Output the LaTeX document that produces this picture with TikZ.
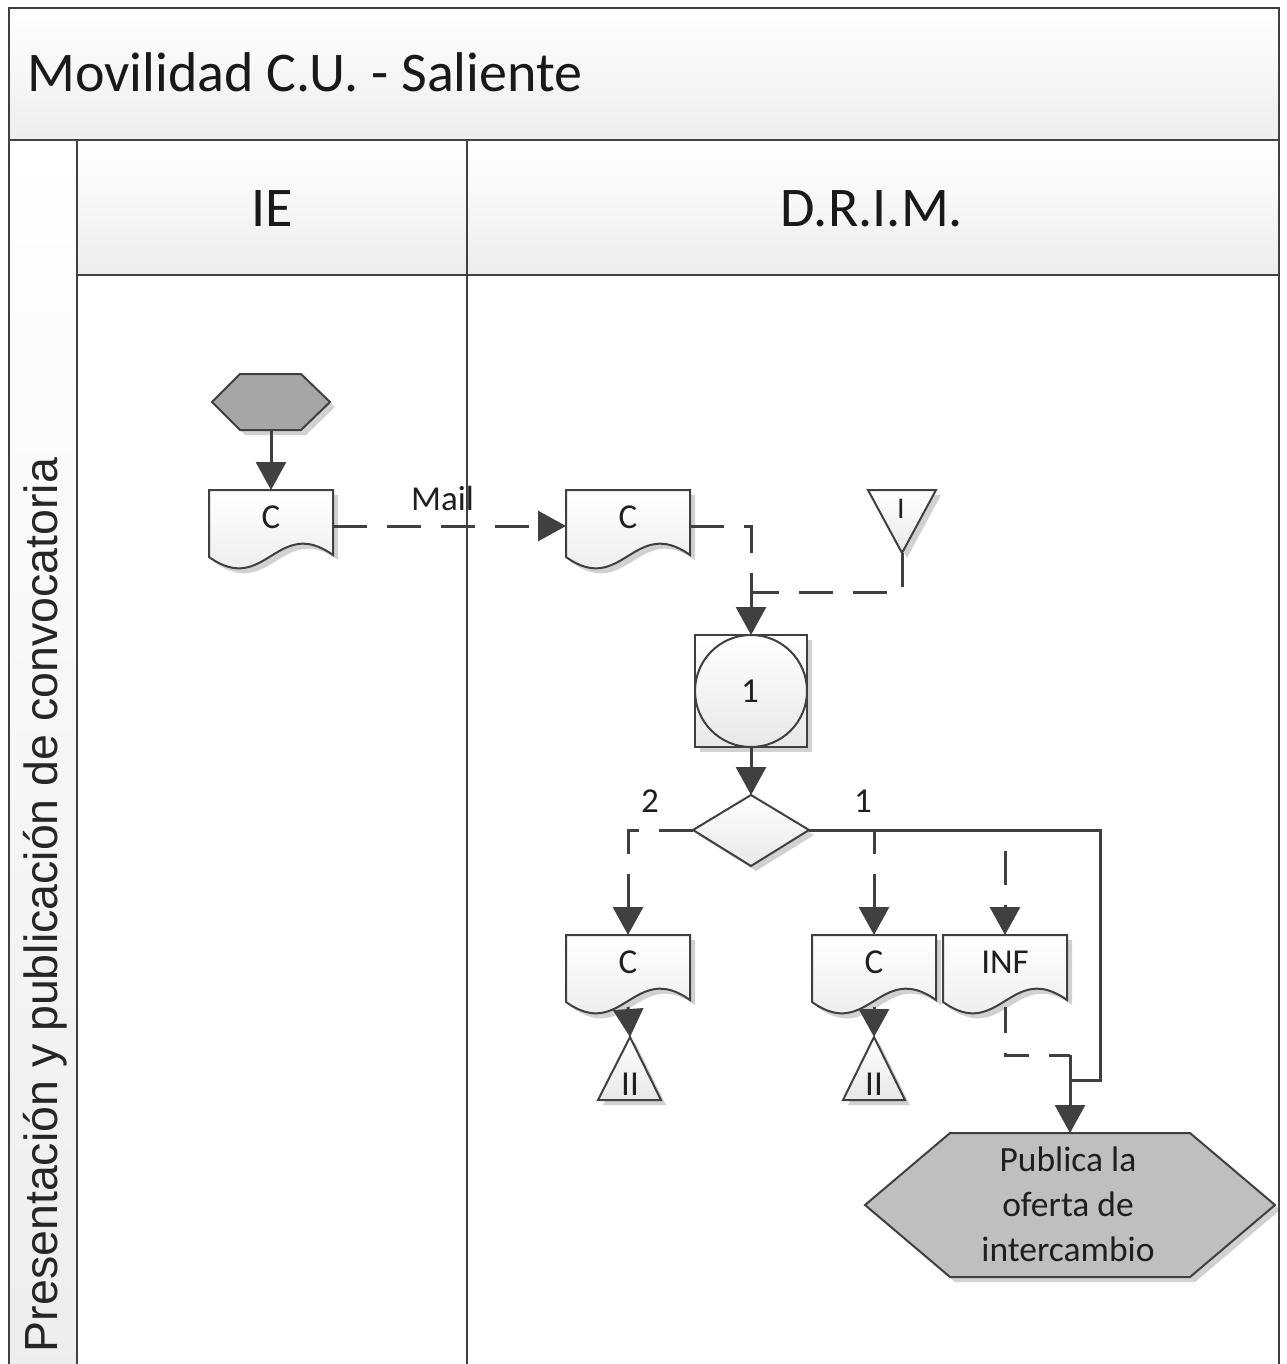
\documentclass[tikz,border=0pt]{standalone}
\usepackage{fontspec}
\setmainfont{Carlito}
\newfontfamily\arialf{Liberation Sans}
\usetikzlibrary{arrows.meta,shapes.geometric,shadows}
\definecolor{lc}{HTML}{404040}
\definecolor{hexa}{HTML}{A6A6A6}
\definecolor{hexb}{HTML}{BFBFBF}
\tikzset{
  frame/.style={draw=lc, line width=2.6pt},
  hdr/.style={frame, top color=white, bottom color=black!7},
  shp/.style={draw=lc, line width=2pt, top color=white, bottom color=black!9,
     drop shadow={shadow xshift=5pt, shadow yshift=-5pt, opacity=0.18, fill=black}},
  gshp/.style={draw=lc, line width=2pt, fill=#1,
     drop shadow={shadow xshift=5pt, shadow yshift=-5pt, opacity=0.18, fill=black}},
  nm/.style={inner sep=0pt, outer sep=0pt, draw=none, rectangle},
  conn/.style={draw=lc, line width=3pt, -{Triangle[width=30pt,length=28pt]}},
  dconn/.style={conn, dash pattern=on 34pt off 20pt},
  plain/.style={draw=lc, line width=3pt},
  lbl/.style={font=\fontsize{35}{44}\selectfont, text=black!88, inner sep=0pt},
  big/.style={font=\fontsize{56}{66}\selectfont, text=black!90, inner sep=0pt},
}
\newcommand\docnode[4]{%
  \path[shp] (#2-62,#3) -- (#2+62,#3) -- (#2+62,#3+65)
     .. controls (#2+6,#3+25) and (#2-6,#3+107) .. (#2-62,#3+67) -- cycle;
  \node[nm, minimum width=124pt, minimum height=72pt] (#1) at (#2,#3+36) {};
  \node[lbl, anchor=base] at (#2,#3+38) {#4};
}
\begin{document}
\begin{tikzpicture}[x=1pt,y=-1pt]
\useasboundingbox (0,0) rectangle (1286,1364);
\clip (0,0) rectangle (1286,1364);
% frame
\path[hdr] (9,8) rectangle (1279,140);
\path[hdr] (9,140) rectangle (77,1380);
\path[hdr] (77,140) rectangle (467,275);
\path[hdr] (467,140) rectangle (1279,275);
\draw[frame] (467,275) -- (467,1380);
\draw[frame] (1279,275) -- (1279,1380);
\node[big, anchor=base west] (title) at (27,92) {Movilidad C.U. - Saliente};
\node[big, anchor=base] (ie) at (272,227) {IE};
\node[big, anchor=base] (drim) at (872,227) {D.R.I.M.};
\node[font=\arialf\fontsize{46.5}{52}\selectfont, text=black!85, inner sep=0pt, rotate=90, anchor=base] (phase) at (57,905) {Presentación y publicación de convocatoria};
% start hexagon
\path[gshp=hexa] (212,402) -- (240,374) -- (301,374) -- (330,402) -- (301,430) -- (240,430) -- cycle;
\node[nm, minimum width=118pt, minimum height=56pt] (start) at (271,402) {};
% documents
\docnode{c1}{271}{490}{C}
\docnode{c2}{628}{490}{C}
\docnode{c3}{628}{935}{C}
\docnode{c4}{874}{935}{C}
\docnode{inf}{1005}{935}{INF}
% triangle I
\path[shp] (868,490) -- (936,490) -- (902,553) -- cycle;
\node[nm, minimum width=68pt, minimum height=63pt] (tri1) at (902,521.5) {};
\node[lbl, anchor=base, font=\fontsize{30}{36}\selectfont] at (901,518) {I};
% box with circle
\path[shp] (695,635) rectangle (807,747);
\draw[draw=lc, line width=2pt, top color=white, bottom color=black!9] (751,691) circle (56);
\node[nm, minimum size=112pt] (circ) at (751,691) {};
\node[lbl, anchor=base] at (750,702) {1};
% decision
\path[shp] (693,830) -- (751,795) -- (809,830) -- (751,866) -- cycle;
\node[nm, minimum width=116pt, minimum height=71pt] (dec) at (751,830.5) {};
% triangles II
\path[shp] (630,1037) -- (661,1100) -- (598,1100) -- cycle;
\node[nm, minimum width=63pt, minimum height=63pt] (t2) at (630,1068.5) {};
\node[lbl, anchor=base] at (630,1095) {II};
\path[shp] (874,1037) -- (905,1100) -- (843,1100) -- cycle;
\node[nm, minimum width=63pt, minimum height=63pt] (t3) at (874,1068.5) {};
\node[lbl, anchor=base] at (874,1095) {II};
% final hexagon
\path[gshp=hexb] (865,1205) -- (950,1133) -- (1190,1133) -- (1275,1205) -- (1190,1277) -- (950,1277) -- cycle;
\node[nm, minimum width=410pt, minimum height=144pt] (pub) at (1070,1205) {};
\node[lbl, align=center, font=\fontsize{35.5}{45}\selectfont] at (1068,1204) {Publica la\\oferta de\\intercambio};
% coordinates
\coordinate (j1) at (751,592);
\coordinate (k1) at (1100,1080);
\coordinate (k2) at (1070,1080);
\coordinate (j3) at (1070,1055);
% connectors
\draw[conn] (start.south) -- (c1.north);
\draw[dconn] (c1.east) -- node[lbl, above=14pt, pos=0.47] {Mail} (c2.east -| c2.west);
\draw[dconn] (c2.east) -| (circ.north);
\draw[plain, dash pattern=on 34pt off 20pt] (tri1.south) |- (j1);
\draw[conn] (circ.south) -- (dec.north);
\draw[dconn] (dec.west) -| (c3.north);
\node[lbl, anchor=base] at (650,812) {2};
\draw[plain] (dec.east) -| (k1) -- (k2);
\draw[dconn] (dec.east) -| (c4.north);
\draw[dconn] (dec.east) -| (inf.north);
\node[lbl, anchor=base] at (863,812) {1};
\draw[conn] (c3.south) -- (t2.north);
\draw[conn] (c4.south) -- (t3.north);
\draw[plain, dash pattern=on 26pt off 20pt] (inf.south) |- (j3);
\draw[conn] (j3) -- (pub.north);
\end{tikzpicture}
\end{document}
